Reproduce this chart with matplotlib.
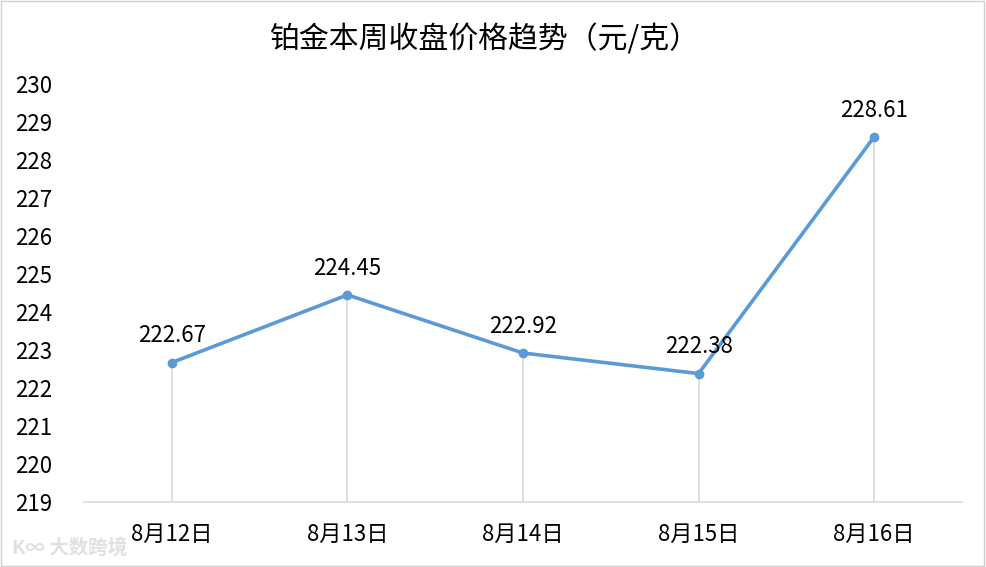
import matplotlib.pyplot as plt
from matplotlib.patches import Rectangle

plt.rcParams['font.family'] = ['Noto Sans CJK SC', 'DejaVu Sans']

# data
dates = ['8月12日', '8月13日', '8月14日', '8月15日', '8月16日']
prices = [222.67, 224.45, 222.92, 222.38, 228.61]
y_ticks = list(range(219, 231))

line_color = '#5B9BD5'
grid_color = '#D9D9D9'

fig = plt.figure(figsize=(9.86, 5.67), dpi=100)
ax = fig.add_axes([84 / 986, 1 - 502 / 567, 878 / 986, 418 / 567])

x = list(range(len(dates)))

# drop lines from each point to the axis
ax.vlines(x, 219, prices, color=grid_color, linewidth=1.2, zorder=1)
ax.plot(x, prices, color=line_color, linewidth=2.6, marker='o',
        markersize=6, zorder=3)

for xi, p in zip(x, prices):
    ax.annotate(f'{p:.2f}', (xi, p), xytext=(0, 11), textcoords='offset points',
                ha='center', va='bottom', fontsize=16)

ax.set_xlim(-0.5, len(dates) - 0.5)
ax.set_ylim(219, 230)
ax.set_yticks(y_ticks)
ax.set_xticks(x)
ax.set_xticklabels(dates)
ax.tick_params(axis='both', length=0, labelsize=16)
ax.tick_params(axis='y', pad=23)
ax.tick_params(axis='x', pad=15)

for side in ['top', 'right', 'left']:
    ax.spines[side].set_visible(False)
ax.spines['bottom'].set_color(grid_color)
ax.spines['bottom'].set_linewidth(1.2)

fig.text(0.491, 1 - 40 / 567, '铂金本周收盘价格趋势（元/克）', ha='center', va='center',
         fontsize=21.5)

# watermark
fig.text(12 / 986, 1 - 548 / 567, 'K∞ 大数跨境', ha='left', va='center',
         fontsize=14, color='#E0E0E0', fontweight='bold')

# outer border
fig.patches.append(Rectangle((0.001, 0.002), 0.997, 0.996, transform=fig.transFigure,
                             fill=False, edgecolor='#D0D0D0', linewidth=1))

fig.savefig('out.png', dpi=100)
